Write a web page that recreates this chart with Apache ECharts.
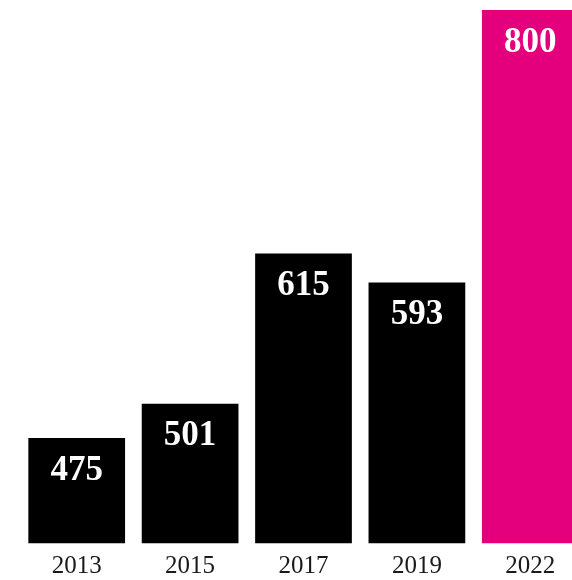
<!DOCTYPE html>
<html>
<head>
<meta charset="utf-8">
<script src="https://cdn.jsdelivr.net/npm/echarts@6/dist/echarts.min.js"></script>
<style>
html,body{margin:0;padding:0;background:#fff;overflow:hidden;width:572px;height:580px;}
#c{width:587px;height:580px;}
</style>
</head>
<body>
<div id="c"></div>
<script>
var categories = ['2013', '2015', '2017', '2019', '2022'];
var values = [475, 501, 615, 593, 800];
var barColors = ['#000000', '#000000', '#000000', '#000000', '#e4007c'];

var chart = echarts.init(document.getElementById('c'), null, {renderer: 'canvas'});
chart.setOption({
  animation: false,
  backgroundColor: '#ffffff',
  grid: {left: 20, right: 0, top: 10, bottom: 36.7},
  xAxis: {
    type: 'category',
    data: categories,
    axisLine: {show: false},
    axisTick: {show: false},
    axisLabel: {
      color: '#1a1a1a',
      fontFamily: 'Liberation Serif',
      fontSize: 25,
      margin: 11
    }
  },
  yAxis: {
    type: 'value',
    min: 395,
    max: 800,
    show: false,
    splitLine: {show: false}
  },
  series: [{
    type: 'bar',
    barCategoryGap: '14.7%',
    data: values.map(function (v, i) {
      return {value: v, itemStyle: {color: barColors[i]}};
    }),
    label: {
      show: true,
      position: 'insideTop',
      distance: 15,
      color: '#ffffff',
      fontFamily: 'Liberation Serif',
      fontWeight: 'bold',
      fontSize: 35
    }
  }]
});
</script>
</body>
</html>
